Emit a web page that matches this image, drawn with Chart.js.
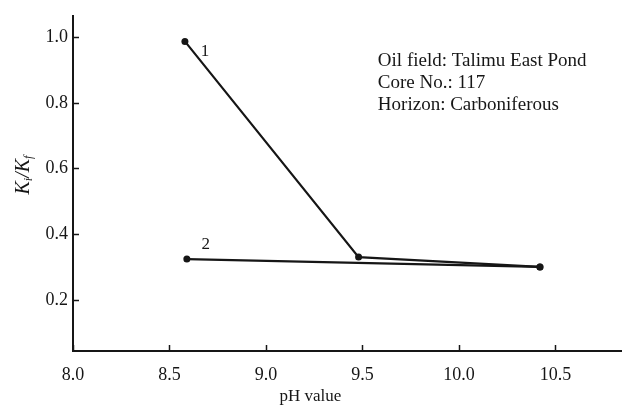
<!DOCTYPE html>
<html>
<head>
<meta charset="utf-8">
<script src="https://cdn.jsdelivr.net/npm/chart.js@4.4.1/dist/chart.umd.min.js"></script>
<style>
  html, body { margin: 0; padding: 0; background: #fff; }
  #wrap { width: 625px; height: 407px; position: relative; }
</style>
</head>
<body>
<div id="wrap"><canvas id="grafico"></canvas></div>
<script>
// datos
var ph1 = [8.58, 9.48, 10.42];
var ratio1 = [0.987, 0.33, 0.30];
var ph2 = [8.59, 10.42];
var ratio2 = [0.324, 0.30];
var xTicks = [8.0, 8.5, 9.0, 9.5, 10.0, 10.5];
var yTicks = [0.2, 0.4, 0.6, 0.8, 1.0];
var infoLines = ["Oil field: Talimu East Pond", "Core No.: 117", "Horizon: Carboniferous"];
var curveNames = ["1", "2"];

var tinta = '#161616';
var fuente = '"Liberation Serif", "DejaVu Serif", serif';

function puntos(xs, ys) {
    return xs.map(function (x, i) { return { x: x, y: ys[i] }; });
}

var datos = {
    datasets: [{
        label: curveNames[0],
        data: puntos(ph1, ratio1),
        borderColor: tinta,
        backgroundColor: tinta,
        borderWidth: 2.2,
        pointRadius: 3.5,
        pointBorderWidth: 0
    }, {
        label: curveNames[1],
        data: puntos(ph2, ratio2),
        borderColor: tinta,
        backgroundColor: tinta,
        borderWidth: 2.2,
        pointRadius: 3.5,
        pointBorderWidth: 0
    }]
};

// marcas de eje hacia dentro, titulos y textos
var extras = {
    id: 'extras',
    afterDraw: function (chart) {
        var c = chart.ctx;
        var xs = chart.scales.x, ys = chart.scales.y;
        var area = chart.chartArea;
        c.save();
        c.strokeStyle = tinta;
        c.lineWidth = 1.5;
        xTicks.forEach(function (v) {
            var p = Math.round(xs.getPixelForValue(v)) + 0.5;
            c.beginPath(); c.moveTo(p, area.bottom); c.lineTo(p, area.bottom - 6); c.stroke();
        });
        yTicks.forEach(function (v) {
            var p = Math.round(ys.getPixelForValue(v)) + 0.5;
            c.beginPath(); c.moveTo(area.left, p); c.lineTo(area.left + 6, p); c.stroke();
        });
        c.fillStyle = tinta;
        // x title
        c.font = '17px ' + fuente;
        c.textAlign = 'center';
        c.textBaseline = 'middle';
        c.fillText('pH value', xs.getPixelForValue(9.23), 397);
        // y title K_i/K_f
        c.save();
        c.translate(24, ys.getPixelForValue(0.58));
        c.rotate(-Math.PI / 2);
        var partes = [
            { t: 'K', f: 'italic 20px ' + fuente, dy: 0 },
            { t: 'i', f: 'italic 12px ' + fuente, dy: 5 },
            { t: '/', f: 'italic 20px ' + fuente, dy: 0 },
            { t: 'K', f: 'italic 20px ' + fuente, dy: 0 },
            { t: 'f', f: 'italic 12px ' + fuente, dy: 5 }
        ];
        var total = 0;
        partes.forEach(function (p) { c.font = p.f; total += c.measureText(p.t).width; });
        var x0 = -total / 2;
        c.textAlign = 'left';
        partes.forEach(function (p) {
            c.font = p.f;
            c.fillText(p.t, x0, p.dy);
            x0 += c.measureText(p.t).width;
        });
        c.restore();
        // curve numbers
        c.font = '17px ' + fuente;
        c.textAlign = 'center';
        var m1 = chart.getDatasetMeta(0).data[0];
        var m2 = chart.getDatasetMeta(1).data[0];
        c.fillText(curveNames[0], m1.x + 20, m1.y + 10);
        c.fillText(curveNames[1], m2.x + 19, m2.y - 15);
        // info block
        c.font = '19px ' + fuente;
        c.textAlign = 'left';
        var bx = xs.getPixelForValue(9.58), by = ys.getPixelForValue(0.926);
        infoLines.forEach(function (t, i) {
            c.fillText(t, bx, by + i * 21.7);
        });
        c.restore();
    }
};

var opciones = {
    responsive: false,
    animation: false,
    layout: { padding: { top: 9, right: 0, bottom: 0, left: 0 } },
    plugins: {
        legend: { display: false },
        tooltip: { enabled: false }
    },
    scales: {
        x: {
            type: 'linear',
            min: 8.0,
            max: 10.84,
            afterBuildTicks: function (s) { s.ticks = xTicks.map(function (v) { return { value: v }; }); },
            afterFit: function (s) { s.height = 56; },
            grid: { display: false, drawTicks: false },
            border: { display: true, color: tinta, width: 2 },
            ticks: {
                color: tinta,
                padding: 13,
                maxRotation: 0,
                font: { family: fuente, size: 18 },
                callback: function (v) { return v.toFixed(1); }
            }
        },
        y: {
            type: 'linear',
            min: 0.044,
            max: 1.065,
            afterBuildTicks: function (s) { s.ticks = yTicks.map(function (v) { return { value: v }; }); },
            afterFit: function (s) { s.width = 73; },
            grid: { display: false, drawTicks: false },
            border: { display: true, color: tinta, width: 2 },
            ticks: {
                color: tinta,
                padding: 5,
                font: { family: fuente, size: 18 },
                callback: function (v) { return v.toFixed(1); }
            }
        }
    }
};

var lienzo = document.getElementById('grafico');
lienzo.width = 625;
lienzo.height = 407;
var grafico = new Chart(lienzo, {
    type: 'line',
    data: datos,
    options: opciones,
    plugins: [extras]
});
</script>
</body>
</html>
